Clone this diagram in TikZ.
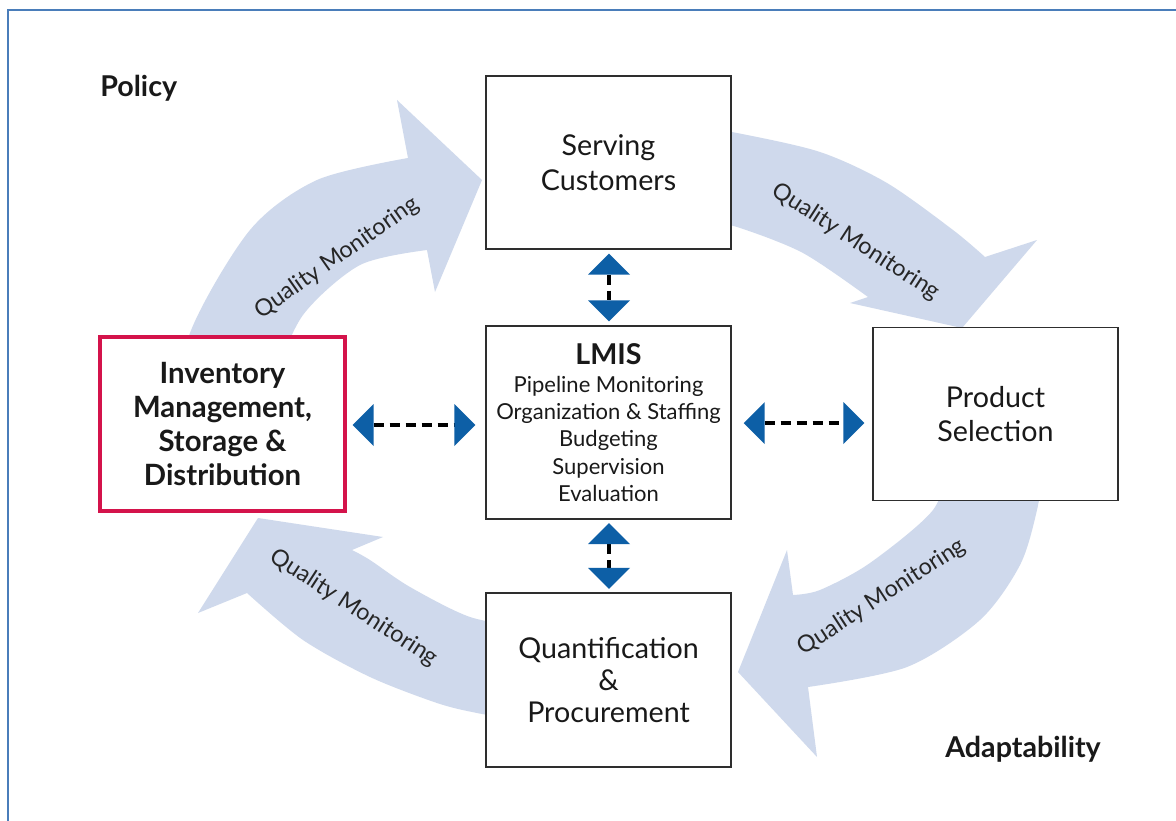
\documentclass[tikz,border=0pt]{standalone}
\usepackage{fontspec}
\setmainfont{Lato}
\usetikzlibrary{arrows.meta}
\definecolor{bandblue}{HTML}{CFD9EC}
\definecolor{tipblue}{HTML}{0D5FA6}
\definecolor{frameblue}{HTML}{4A7DBA}
\definecolor{invred}{HTML}{D4134B}
\definecolor{boxline}{HTML}{2E2E2E}
\tikzset{tiptri/.tip={Triangle[length=15.75pt,width=31.5pt,color=tipblue,line width=0pt]}}
\begin{document}
\begin{tikzpicture}[x=0.75pt,y=-0.75pt,
  box/.style={draw=boxline, line width=1.1pt, fill=white, align=center, inner sep=0pt,
    minimum width=183.75pt, font=\fontsize{21.5}{26}\selectfont, text=black!90},
  invbox/.style={draw=invred, line width=3pt, fill=white, align=center, inner sep=0pt,
    minimum width=184pt, minimum height=131pt, font=\bfseries\fontsize{22}{25.5}\selectfont, text=black!90},
  qm/.style={font=\fontsize{17.5}{18}\selectfont, text=black!85, inner sep=0pt},
  corner/.style={font=\bfseries\fontsize{21.5}{24}\selectfont, text=black!90, inner sep=0pt},
  conn/.style={line width=3pt, black, dash pattern=on 7.5pt off 4.5pt, tiptri-tiptri}
]
\useasboundingbox (0,0) rectangle (1176,820);
\fill[white] (0,0) rectangle (1176,820);
% frame
\draw[frameblue, line width=1.6pt] (8,840) -- (8,10) -- (1200,10);

% curved cycle arrows
\fill[bandblue] plot[smooth] coordinates {(180,420) (190,333) (250,230) (317,180) (408,158)}
  -- (397,100) -- (482,180) -- (435,292) -- (427,250)
  -- plot[smooth] coordinates {(427,250) (360,265) (303,315) (275,380) (270,420)} -- cycle;
\fill[bandblue] plot[smooth] coordinates {(700,128) (737,133) (820,152) (887,183) (953,230) (985,257)}
  -- (1037,240) -- (962,328) -- (850,303) -- (868,297)
  -- plot[smooth] coordinates {(868,297) (803,253) (737,227) (700,220)} -- cycle;
\fill[bandblue] plot[smooth] coordinates {(1045,460) (1037,510) (1020,565) (980,620) (907,667) (808,687)}
  -- (817,757) -- (738,672) -- (787,550) -- (793,595)
  -- plot[smooth] coordinates {(793,595) (820,590) (870,563) (933,510) (950,460)} -- cycle;
\fill[bandblue] plot[smooth] coordinates {(530,722) (477,713) (437,703) (370,677) (303,640) (247,593)}
  -- (198,613) -- (258,518) -- (383,537) -- (352,550)
  -- plot[smooth] coordinates {(352,550) (370,560) (410,587) (470,617) (530,628)} -- cycle;

\node[qm, rotate=35] (qm1) at (337,258) {Quality Monitoring};
\node[qm, rotate=-33] (qm2) at (856,242) {Quality Monitoring};
\node[qm, rotate=33] (qm3) at (882,597) {Quality Monitoring};
\node[qm, rotate=-33] (qm4) at (354,608) {Quality Monitoring};

% boxes
\node[box, minimum height=129.75pt] (serve) at (608.5,162.5) {Serving\\Customers};
\node[box, minimum height=144.75pt, font=\fontsize{16.5}{20.5}\selectfont] (lmis) at (608.5,422.5)
  {{\bfseries\fontsize{21.5}{22}\selectfont LMIS}\\[0.5pt]Pipeline Monitoring\\Organization \& Staffing\\Budgeting\\Supervision\\Evaluation};
\node[box, minimum height=129.75pt] (prod) at (995.5,414) {Product\\Selection};
\node[box, minimum height=130.5pt, font=\fontsize{21.5}{24}\selectfont] (quant) at (608.5,680) {Quantification\\\&\\Procurement};
\node[invbox] (inv) at (222.5,424) {Inventory\\Management,\\Storage \&\\Distribution};

\node[corner, anchor=base west] (policy) at (100,97) {Policy};
\node[corner, anchor=base west] (adapt) at (945,757) {Adaptability};

% connectors
\draw[conn, shorten <=4pt, shorten >=7.5pt] (inv.east |- 0,425) -- (lmis.west |- 0,425);
\draw[conn, shorten <=9pt, shorten >=6pt] (lmis.east |- 0,423) -- (prod.west |- 0,423);
\draw[conn, shorten <=3pt, shorten >=3pt] (serve.south -| 609,0) -- (lmis.north -| 609,0);
\draw[conn, shorten <=2.5pt, shorten >=2.5pt] (lmis.south -| 609,0) -- (quant.north -| 609,0);
\end{tikzpicture}
\end{document}
